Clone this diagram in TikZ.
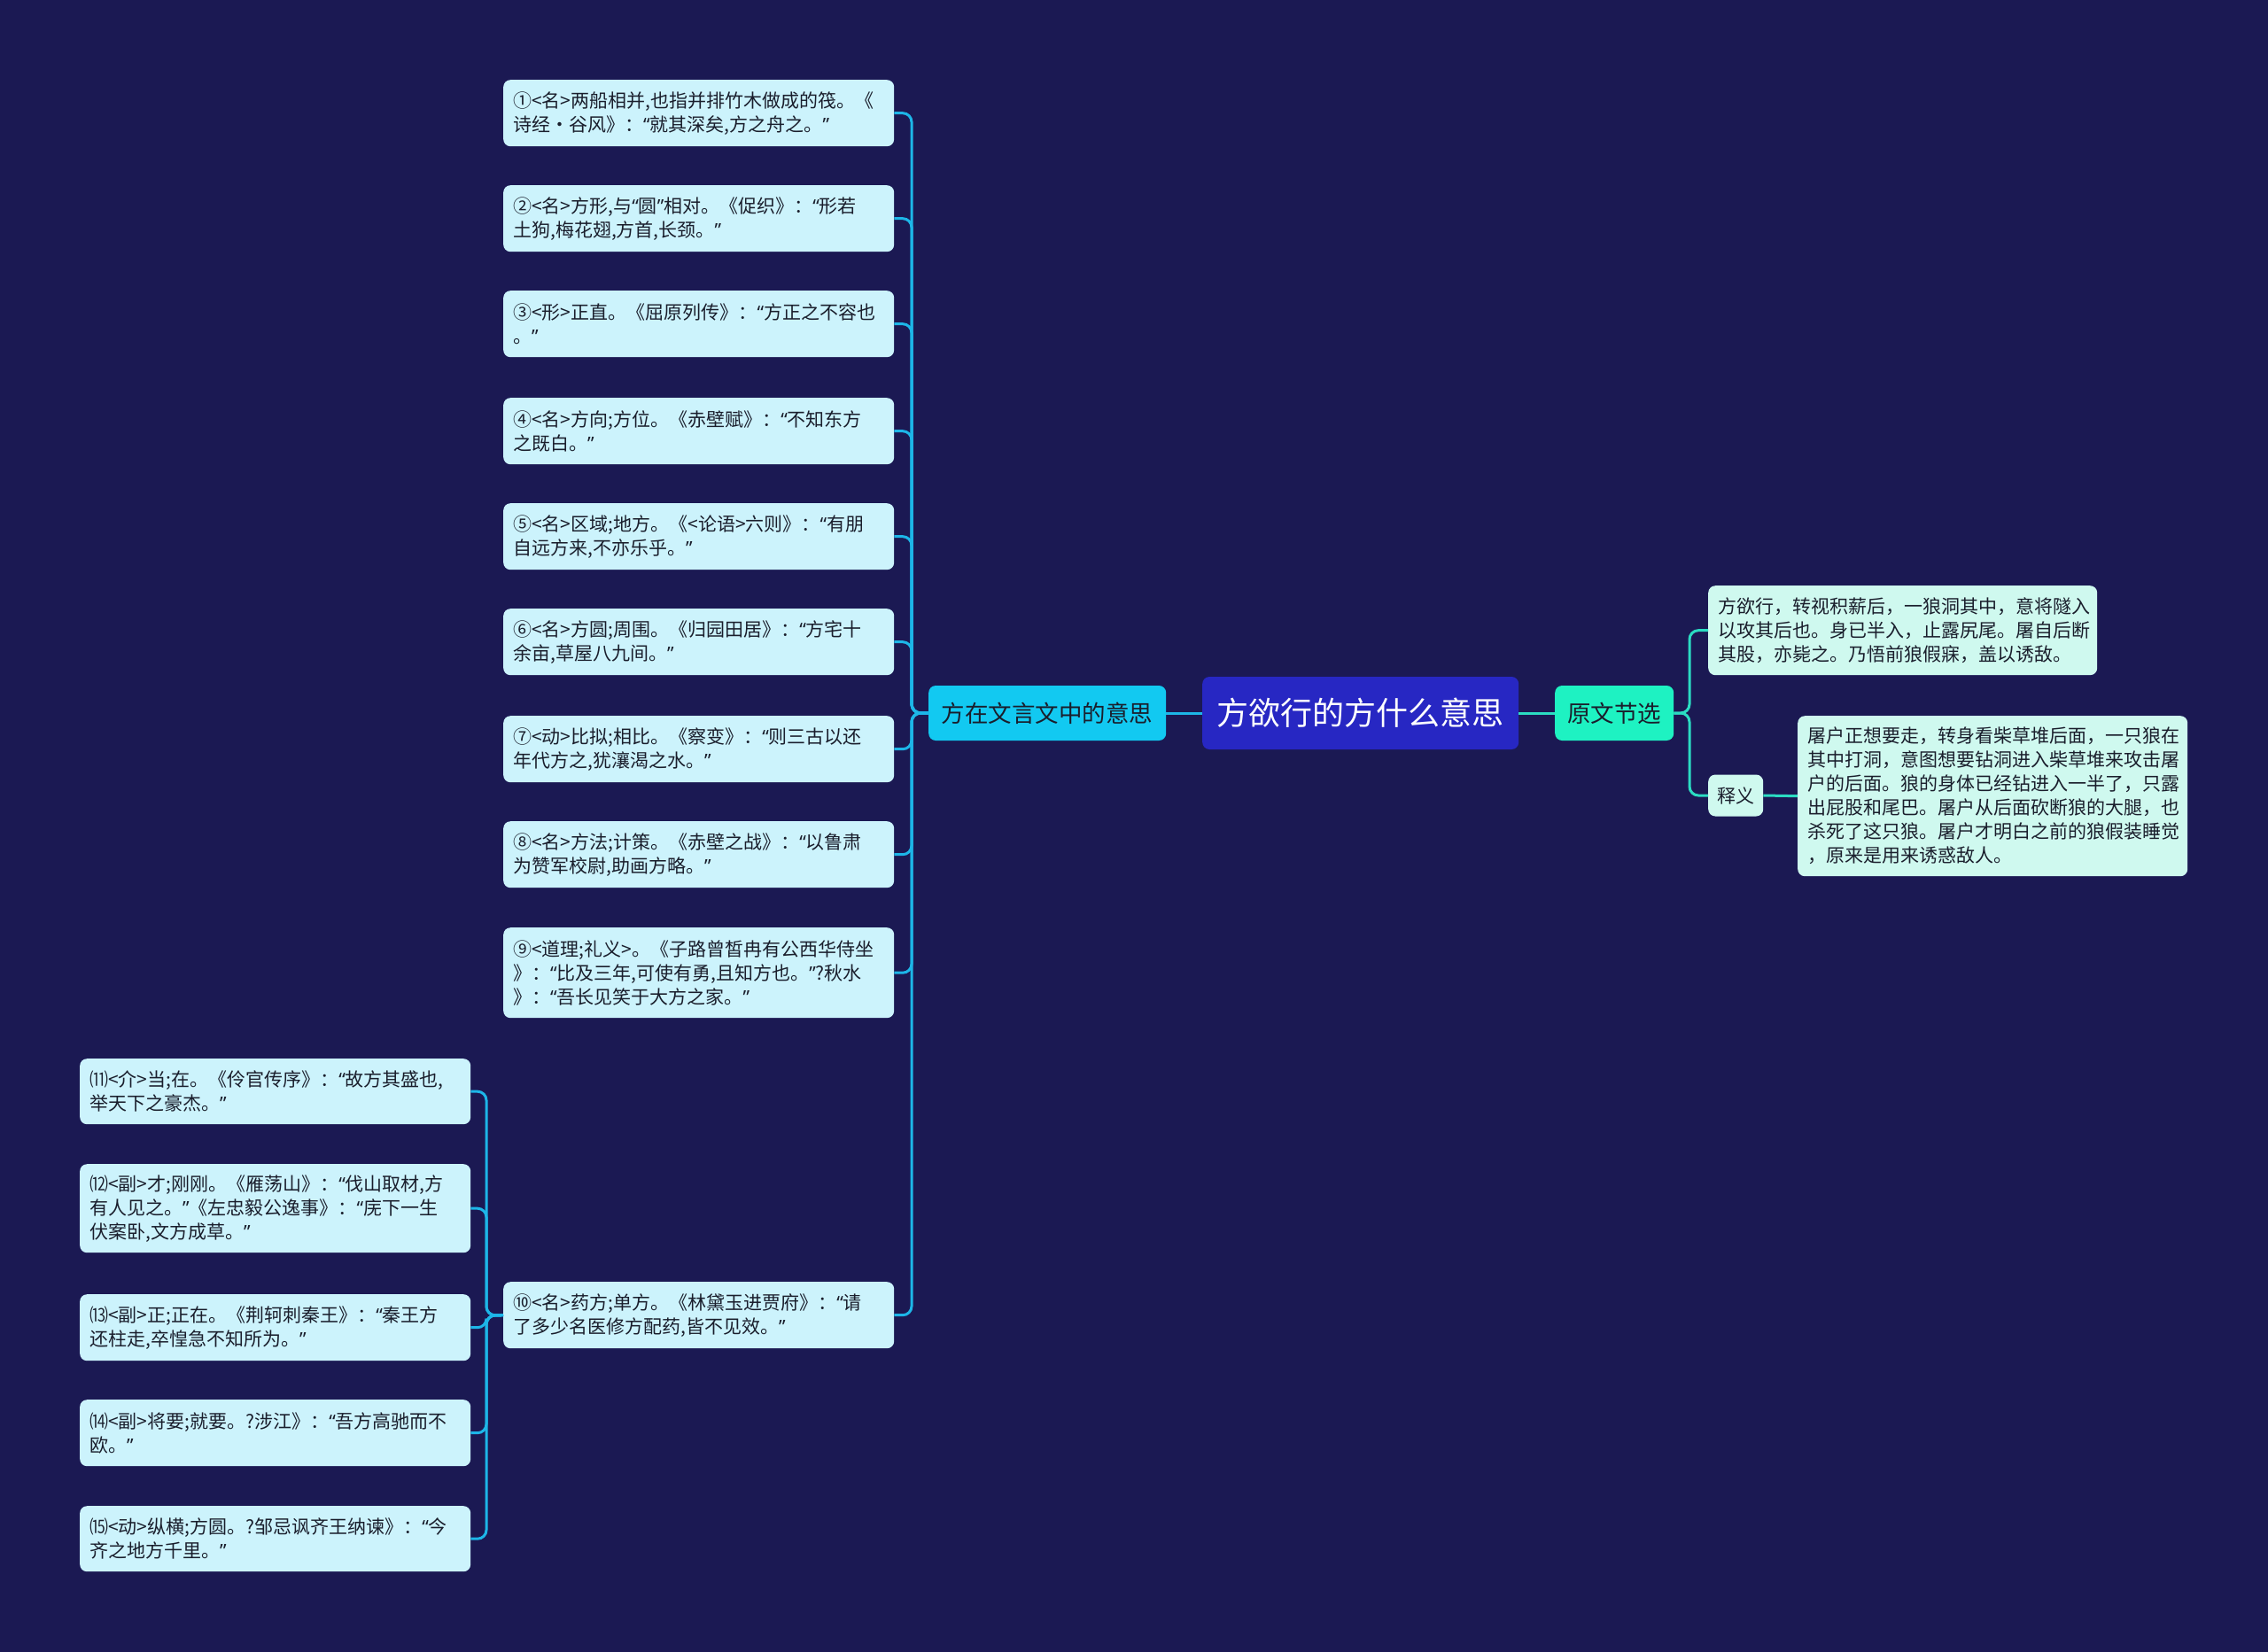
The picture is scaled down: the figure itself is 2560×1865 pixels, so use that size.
\documentclass[tikz,border=0pt]{standalone}
\usepackage{fontspec}
\setmainfont{Noto Sans CJK SC}
\newfontfamily\qf{Noto Sans}
\definecolor{bgcol}{HTML}{1B1953}
\definecolor{rootcol}{HTML}{2727C3}
\definecolor{topiccyan}{HTML}{12C9F1}
\definecolor{topicmint}{HTML}{1EF2C2}
\definecolor{leafcyan}{HTML}{CCF3FC}
\definecolor{leafmint}{HTML}{CFF9EF}
\definecolor{linecyan}{HTML}{1DB6E8}
\definecolor{linemint}{HTML}{2BDCC2}
\definecolor{inkcol}{HTML}{1A1E2C}
% narrow quotes
\catcode`“=\active \catcode`”=\active
\def“{{\qf\char"201C}}
\def”{{\qf\char"201D}}
\begin{document}
\begin{tikzpicture}[x=1pt,y=-1pt,
    leaf/.style={fill=#1, rounded corners=8pt, anchor=north west,
      text width=419pt, inner xsep=11pt, inner ysep=0pt, align=left,
      text=inkcol, font=\fontsize{21}{27}\selectfont},
    topic/.style={fill=#1, rounded corners=8pt, anchor=west, inner sep=0pt,
      minimum height=62pt, text=inkcol, font=\fontsize{26.5}{30}\selectfont},
    link/.style={line width=3pt, rounded corners=10pt, color=#1}]

    % Background
    \fill[bgcol] (0,0) rectangle (2560,1865);

    % Root
    \node[fill=rootcol, rounded corners=8pt, anchor=west, inner sep=0pt,
      minimum width=357pt, minimum height=82pt, text=white,
      font=\fontsize{36}{42}\selectfont] (root) at (1357,805) {方欲行的方什么意思};

    % Topics
    \node[topic=topiccyan, minimum width=268pt] (meaning) at (1048,805) {方在文言文中的意思};
    \node[topic=topicmint, minimum width=134pt] (excerpt) at (1755,805) {原文节选};

    % Meanings, first column
    \node[leaf=leafcyan, minimum height=75pt] (m1) at (568,90)
      {①<名>两船相并,也指并排竹木做成的筏。《\\诗经·谷风》：“就其深矣,方之舟之。”};
    \node[leaf=leafcyan, minimum height=75pt] (m2) at (568,209)
      {②<名>方形,与“圆”相对。《促织》：“形若\\土狗,梅花翅,方首,长颈。”};
    \node[leaf=leafcyan, minimum height=75pt] (m3) at (568,328)
      {③<形>正直。《屈原列传》：“方正之不容也\\。”};
    \node[leaf=leafcyan, minimum height=75pt] (m4) at (568,449)
      {④<名>方向;方位。《赤壁赋》：“不知东方\\之既白。”};
    \node[leaf=leafcyan, minimum height=75pt] (m5) at (568,568)
      {⑤<名>区域;地方。《<论语>六则》：“有朋\\自远方来,不亦乐乎。”};
    \node[leaf=leafcyan, minimum height=75pt] (m6) at (568,687)
      {⑥<名>方圆;周围。《归园田居》：“方宅十\\余亩,草屋八九间。”};
    \node[leaf=leafcyan, minimum height=75pt] (m7) at (568,808)
      {⑦<动>比拟;相比。《察变》：“则三古以还\\年代方之,犹瀼渴之水。”};
    \node[leaf=leafcyan, minimum height=75pt] (m8) at (568,927)
      {⑧<名>方法;计策。《赤壁之战》：“以鲁肃\\为赞军校尉,助画方略。”};
    \node[leaf=leafcyan, minimum height=102pt] (m9) at (568,1047)
      {⑨<道理;礼义>。《子路曾皙冉有公西华侍坐\\》：“比及三年,可使有勇,且知方也。”?秋水\\》：“吾长见笑于大方之家。”};
    \node[leaf=leafcyan, minimum height=75pt] (m10) at (568,1447)
      {⑩<名>药方;单方。《林黛玉进贾府》：“请\\了多少名医修方配药,皆不见效。”};

    % Meanings, second column
    \node[leaf=leafcyan, minimum height=74pt] (m11) at (90,1195)
      {⑾<介>当;在。《伶官传序》：“故方其盛也,\\举天下之豪杰。”};
    \node[leaf=leafcyan, minimum height=100pt] (m12) at (90,1314)
      {⑿<副>才;刚刚。《雁荡山》：“伐山取材,方\\有人见之。”《左忠毅公逸事》：“庑下一生\\伏案卧,文方成草。”};
    \node[leaf=leafcyan, minimum height=75pt] (m13) at (90,1461)
      {⒀<副>正;正在。《荆轲刺秦王》：“秦王方\\还柱走,卒惶急不知所为。”};
    \node[leaf=leafcyan, minimum height=75pt] (m14) at (90,1580)
      {⒁<副>将要;就要。?涉江》：“吾方高驰而不\\欧。”};
    \node[leaf=leafcyan, minimum height=74pt] (m15) at (90,1700)
      {⒂<动>纵横;方圆。?邹忌讽齐王纳谏》：“今\\齐之地方千里。”};

    % Excerpt and translation
    \node[leaf=leafmint, text width=417pt, minimum height=101pt] (text) at (1928,661)
      {方欲行，转视积薪后，一狼洞其中，意将隧入\\以攻其后也。身已半入，止露尻尾。屠自后断\\其股，亦毙之。乃悟前狼假寐，盖以诱敌。};
    \node[fill=leafmint, rounded corners=8pt, anchor=west, inner sep=0pt,
      minimum width=62pt, minimum height=47pt, text=inkcol,
      font=\fontsize{21}{25}\selectfont] (gloss) at (1928,898) {释义};
    \node[leaf=leafmint, text width=418pt, minimum height=181pt] (trans) at (2029,808)
      {屠户正想要走，转身看柴草堆后面，一只狼在\\其中打洞，意图想要钻洞进入柴草堆来攻击屠\\户的后面。狼的身体已经钻进入一半了，只露\\出屁股和尾巴。屠户从后面砍断狼的大腿，也\\杀死了这只狼。屠户才明白之前的狼假装睡觉\\，原来是用来诱惑敌人。};

    % Trunks
    \coordinate (ltrunk) at (1029,805);
    \coordinate (btrunk) at (549,1485);
    \coordinate (rtrunk) at (1907,805);

    % Links
    \draw[link=linecyan, rounded corners=0pt] (root.west) -- (meaning.east);
    \draw[link=linemint, rounded corners=0pt] (root.east) -- (excerpt.west);
    \foreach \m in {m1,m2,m3,m4,m5,m6,m7,m8,m9,m10}
      \draw[link=linecyan] (meaning.west) -- (ltrunk) |- (\m.east);
    \foreach \m in {m11,m12,m13,m14,m15}
      \draw[link=linecyan] (m10.west) -- (btrunk) |- (\m.east);
    \draw[link=linemint] (excerpt.east) -- (rtrunk) |- (text.west);
    \draw[link=linemint] (excerpt.east) -- (rtrunk) |- (gloss.west);
    \draw[link=linemint, rounded corners=0pt] (gloss.east) -- (trans.west);

\end{tikzpicture}
\end{document}
